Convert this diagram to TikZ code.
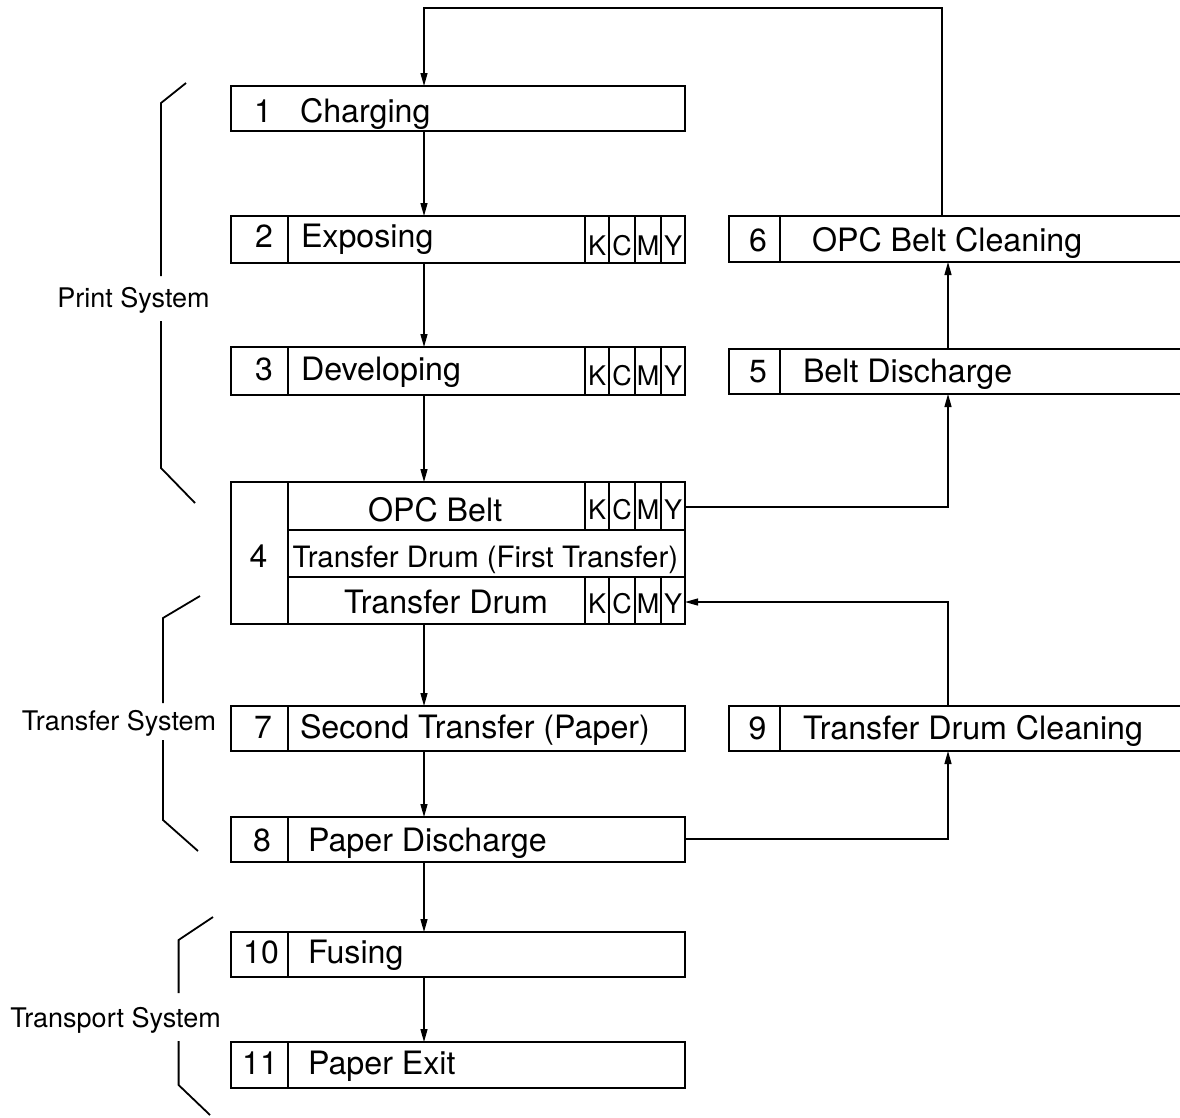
\documentclass[tikz,border=0pt]{standalone}
\usepackage{fontspec}
\setmainfont{TeX Gyre Heros}
\usetikzlibrary{arrows.meta}
\begin{document}
\begin{tikzpicture}[x=1pt,y=-1pt,
 box/.style={draw, line width=2pt, inner sep=0pt, outer sep=0pt, anchor=north west},
 obox/.style={draw=none, inner sep=0pt, outer sep=0pt, anchor=north west},
 boxline/.style={line width=2pt, line join=miter},
 divl/.style={line width=1.3pt},
 arr/.style={line width=1.3pt, -{Triangle[length=13pt,width=7pt]}},
 brk/.style={line width=1.8pt},
 txt/.style={inner sep=0pt, outer sep=0pt, anchor=base west, font=\fontsize{32.2}{32.2}\selectfont},
 num/.style={inner sep=0pt, outer sep=0pt, anchor=base, font=\fontsize{32}{32}\selectfont},
 mid/.style={inner sep=0pt, outer sep=0pt, anchor=base west, font=\fontsize{29.4}{29.4}\selectfont},
 cell/.style={inner sep=0pt, outer sep=0pt, anchor=base, font=\fontsize{27}{27}\selectfont},
 lab/.style={inner sep=0pt, outer sep=0pt, anchor=base, font=\fontsize{27}{27}\selectfont}]
\useasboundingbox (0,0) rectangle (1180,1117);

% ---------- left column boxes ----------
\node[box, minimum width=454pt, minimum height=45pt] (b1) at (231,86) {};
\node[box, minimum width=454pt, minimum height=47pt] (b2) at (231,216) {};
\node[box, minimum width=454pt, minimum height=48pt] (b3) at (231,347) {};
\node[box, minimum width=454pt, minimum height=142pt] (b4) at (231,482) {};
\node[box, minimum width=454pt, minimum height=45pt] (b7) at (231,706) {};
\node[box, minimum width=454pt, minimum height=45pt] (b8) at (231,817) {};
\node[box, minimum width=454pt, minimum height=45pt] (b10) at (231,932) {};
\node[box, minimum width=454pt, minimum height=46pt] (b11) at (231,1042) {};

% ---------- right column boxes (open to the right edge) ----------
\node[obox, minimum width=451pt, minimum height=46pt] (b6) at (729,216) {};
\node[obox, minimum width=451pt, minimum height=45pt] (b5) at (729,349) {};
\node[obox, minimum width=451pt, minimum height=45pt] (b9) at (729,706) {};
\foreach \b in {b6,b5,b9}{
  \draw[boxline] (\b.north east) -- (\b.north west) -- (\b.south west) -- (\b.south east);
}

% ---------- dividers ----------
\foreach \b in {b2,b3,b4,b7,b8,b10,b11}{
  \draw[divl] (\b.north -| 288,0) -- (\b.south -| 288,0);
}
\foreach \b in {b6,b5,b9}{
  \draw[divl] (\b.north -| 780,0) -- (\b.south -| 780,0);
}
% box 4 rows
\draw[divl] (288,530) -- (685,530);
\draw[divl] (288,577) -- (685,577);
% KCMY cells
\foreach \x in {585,609,635,661}{
  \draw[divl] (\x,216) -- (\x,263);
  \draw[divl] (\x,347) -- (\x,395);
  \draw[divl] (\x,482) -- (\x,530);
  \draw[divl] (\x,577) -- (\x,624);
}

% ---------- texts ----------
\node[num] (n1) at (263,122) {1};
\node[txt] (t1) at (300,122) {Charging};
\node[num] (n2) at (264,247) {2};
\node[txt] (t2) at (301,247) {Exposing};
\node[num] (n3) at (264,380) {3};
\node[txt] (t3) at (301,380) {Developing};
\node[num] (n4) at (258.5,567) {4};
\node[txt] (t4a) at (368,521) {OPC Belt};
\node[mid] (t4b) at (292.5,567) {Transfer Drum (First Transfer)};
\node[txt] (t4c) at (344,613.5) {Transfer Drum};
\node[num] (n6) at (758,251) {6};
\node[txt] (t6) at (812,251) {OPC Belt Cleaning};
\node[num] (n5) at (758,382) {5};
\node[txt] (t5) at (803,382) {Belt Discharge};
\node[num] (n7) at (263,738) {7};
\node[txt] (t7) at (300,738) {Second Transfer (Paper)};
\node[num] (n8) at (262,851.5) {8};
\node[txt] (t8) at (308,851.5) {Paper Discharge};
\node[num] (n9) at (757.5,739) {9};
\node[txt] (t9) at (803,739) {Transfer Drum Cleaning};
\node[num] (n10) at (261,963) {10};
\node[txt] (t10) at (308,963) {Fusing};
\node[num] (n11) at (260,1074) {11};
\node[txt] (t11) at (308,1074) {Paper Exit};

\foreach \y/\r in {255/a,385/b,519/c,613/d}{
  \node[cell] (k\r) at (597,\y) {K};
  \node[cell] (c\r) at (622,\y) {C};
  \node[cell] (m\r) at (648,\y) {M};
  \node[cell] (y\r) at (673,\y) {Y};
}

% ---------- group labels and brackets ----------
\node[lab] (lp) at (133.5,307.5) {Print System};
\node[lab] (lt) at (119,730) {Transfer System};
\node[lab] (lr) at (115.5,1027) {Transport System};

\draw[brk] (186,83) -- (161,103) -- (161,276);
\draw[brk] (161,321) -- (161,468) -- (195,503);
\draw[brk] (200,596) -- (163,618) -- (163,703);
\draw[brk] (163,740) -- (163,820) -- (198,851);
\draw[brk] (213,917) -- (178.6,940) -- (178.6,993);
\draw[brk] (178.6,1041) -- (178.6,1085) -- (210,1115);

% ---------- connectors ----------
\coordinate (cx) at (424,0);
\draw[arr] (b1.south -| cx) -- (b2.north -| cx);
\draw[arr] (b2.south -| cx) -- (b3.north -| cx);
\draw[arr] (b3.south -| cx) -- (b4.north -| cx);
\draw[arr] (b4.south -| cx) -- (b7.north -| cx);
\draw[arr] (b7.south -| cx) -- (b8.north -| cx);
\draw[arr] (b8.south -| cx) -- (b10.north -| cx);
\draw[arr] (b10.south -| cx) -- (b11.north -| cx);

\coordinate (k1) at (942,8);
\coordinate (k2) at (424,8);
\draw[arr] (b6.north -| k1) -- (k1) -- (k2) -- (b1.north -| k2);

\coordinate (k3) at (948,507);
\draw[arr] (b4.east |- k3) -- (k3) -- (b5.south -| k3);
\draw[arr] (b5.north -| k3) -- (b6.south -| k3);

\coordinate (k4) at (948,839);
\draw[arr] (b8.east |- k4) -- (k4) -- (b9.south -| k4);

\coordinate (k5) at (948,602);
\draw[arr] (b9.north -| k5) -- (k5) -- (b4.east |- k5);
\end{tikzpicture}
\end{document}
